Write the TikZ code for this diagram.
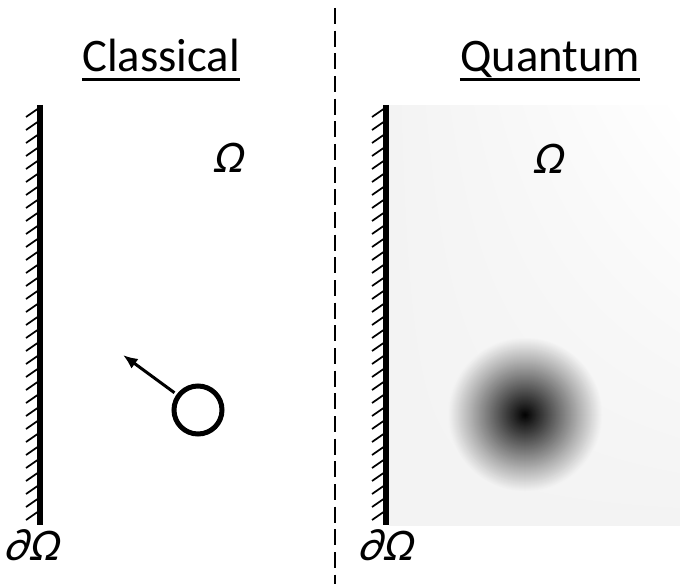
\documentclass[tikz,border=0pt]{standalone}
\usepackage{fontspec}
\setmainfont{Carlito}
\newfontfamily\slantfont[FakeSlant=0.22]{Carlito}
\usepackage{tikz}
\usetikzlibrary{arrows.meta,shadings}

\definecolor{bgq}{HTML}{F3F3F3}

\begin{document}
\begin{tikzpicture}[x=0.75pt,y=-0.75pt,
    wall/.style={line width=4.5pt,black},
    hatch/.style={line width=1.3pt,black},
    heading/.style={font=\fontsize{35}{40}\selectfont,inner sep=0pt,anchor=base},
    sym/.style={font=\fontsize{34}{40}\selectfont\slantfont,inner sep=0pt,anchor=base},
    uline/.style={line width=2pt,black}]
      \useasboundingbox (0,0) rectangle (680,584);

      % quantum side: background and wave packet
      \shade [upper right=white,upper left=bgq,lower left=bgq,lower right=bgq] (389,106) rectangle (680,525);
      \foreach \r in {77,76,...,1} {
        \pgfmathsetmacro{\dk}{100*(1-\r/77)^1.05}
        \fill [black!\dk!bgq] (525,415) circle (\r);
      }

      % divider
      \draw [line width=1.5pt,black,dash pattern=on 12pt off 5pt] (335,8) -- (335,584);

      % walls
      \draw [wall] (40,105) -- (40,525);
      \draw [wall] (386,105) -- (386,525);
      \foreach \i in {0,...,31} {
        \draw [hatch] (26,{117+13*\i}) -- (39,{108+13*\i});
        \draw [hatch] (372,{117+13*\i}) -- (385,{108+13*\i});
      }

      % headings
      \node [heading] (cls) at (161,72) {Classical};
      \node [heading] (qnt) at (550,72) {Quantum};
      \draw [uline] ([yshift=-5.5pt]cls.base west) -- ([yshift=-5.5pt]cls.base east);
      \draw [uline] ([yshift=-5.5pt]qnt.base west) -- ([yshift=-5.5pt]qnt.base east);

      % labels
      \node [sym] (omegaL) at (228,173) {Ω};
      \node [sym] (omegaR) at (548,174) {Ω};
      \node [sym] (bdL) at (31,560) {∂Ω};
      \node [sym] (bdR) at (385,560) {∂Ω};

      % classical particle
      \node [circle,draw,line width=3.75pt,minimum size=36pt,inner sep=0pt] (ball) at (198,410) {};
      \coordinate (tip) at (123,355);
      \draw [-{Latex[length=11pt,width=9pt]},line width=2.25pt,shorten <=2pt] (ball) -- (tip);
    \end{tikzpicture}
\end{document}
